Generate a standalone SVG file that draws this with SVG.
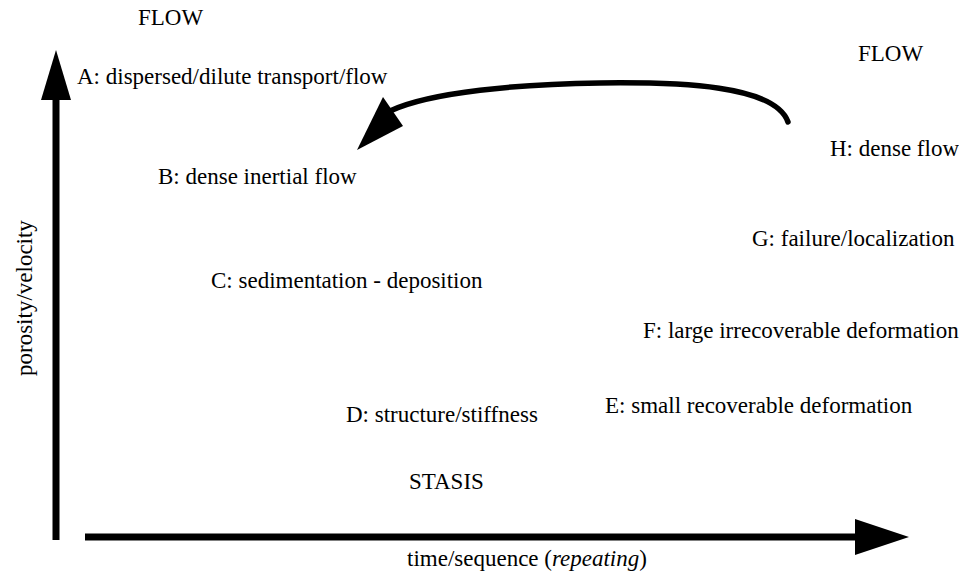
<svg xmlns="http://www.w3.org/2000/svg" width="959" height="577" viewBox="0 0 959 577">
<style>
text{font-family:"Liberation Serif","Times New Roman",serif;font-size:23px;fill:#000}
.ax{stroke:#000;stroke-width:7;fill:none}
.cv{stroke:#000;stroke-width:5.5;fill:none;stroke-linecap:round}
.hd{fill:#000;stroke:none}
</style>
<rect width="959" height="577" fill="#fff"/>
<g id="connectors">
<line class="ax" x1="56" y1="540" x2="56" y2="98"/>
<polygon class="hd" points="56,50 41,100 71,100"/>
<line class="ax" x1="85" y1="537" x2="858" y2="537"/>
<polygon class="hd" points="909,537 855,519 855,555"/>
<path class="cv" d="M788,122 C775,85 680,82 600,83 C520,84 430,92 390,111"/>
<polygon class="hd" points="357,150 383,97 403,126"/>
</g>
<g id="flow-top"><text x="138" y="25">FLOW</text></g>
<g id="flow-right"><text x="858" y="61">FLOW</text></g>
<g id="node-a"><text x="77" y="84">A: dispersed/dilute transport/flow</text></g>
<g id="node-b"><text x="158" y="184">B: dense inertial flow</text></g>
<g id="node-c"><text x="211" y="288">C: sedimentation - deposition</text></g>
<g id="node-d"><text x="346" y="422">D: structure/stiffness</text></g>
<g id="node-e"><text x="605" y="413">E: small recoverable deformation</text></g>
<g id="node-f"><text x="643" y="338">F: large irrecoverable deformation</text></g>
<g id="node-g"><text x="752" y="246">G: failure/localization</text></g>
<g id="node-h"><text x="830" y="156">H: dense flow</text></g>
<g id="stasis"><text x="409" y="489">STASIS</text></g>
<g id="x-label"><text x="407" y="566">time/sequence (<tspan font-style="italic">repeating</tspan>)</text></g>
<g id="y-label"><text transform="translate(32,376) rotate(-90)">porosity/velocity</text></g>
</svg>
